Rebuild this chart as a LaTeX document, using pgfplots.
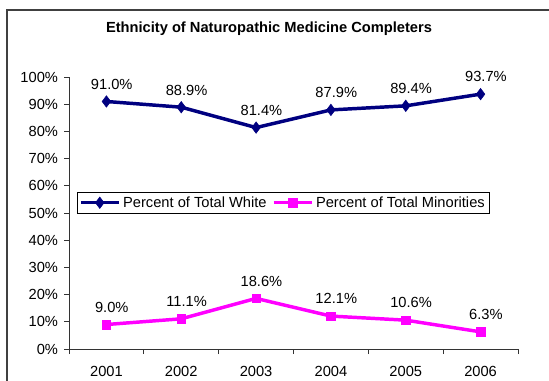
\documentclass[border=0pt]{standalone}
\usepackage{pgfplots}
\pgfplotsset{compat=1.18}
\usepackage{fontspec}
\setmainfont{Liberation Sans}
\definecolor{navy}{RGB}{0,0,128}
\definecolor{mag}{RGB}{255,0,255}
\begin{document}
\begin{tikzpicture}
\useasboundingbox (0pt,0pt) rectangle (411.75pt,285.75pt);
\draw[line width=1.4pt, black!75] (5.25pt,-10pt) -- (5.25pt,278.25pt) -- (425pt,278.25pt);
\node[font=\bfseries\fontsize{11}{13}\selectfont] at (201.75pt,264pt) {Ethnicity of Naturopathic Medicine Completers};
\begin{axis}[
  at={(51.75pt,24pt)}, anchor=south west,
  scale only axis, width=336.75pt, height=204pt,
  xmin=0.5, xmax=6.5, ymin=0, ymax=100,
  axis x line*=bottom, axis y line*=left,
  axis line style={-, black!80, line width=0.6pt},
  xtick={1,2,3,4,5,6},
  xticklabels={2001,2002,2003,2004,2005,2006},
  minor xtick={0.5,1.5,2.5,3.5,4.5,5.5,6.5},
  major x tick style={draw=none},
  ytick={0,10,...,100},
  yticklabel={\pgfmathprintnumber{\tick}\%},
  /pgf/number format/assume math mode=true,
  tick align=outside,
  tick style={black!80, line width=0.6pt},
  major tick length=3.75pt, minor tick length=3.75pt,
  ticklabel style={font=\fontsize{11}{13}\selectfont},
  xticklabel style={yshift=-6pt},
  yticklabel style={xshift=-1pt},
  point meta=explicit symbolic,
  nodes near coords,
  every node near coord/.append style={font=\fontsize{11}{13}\selectfont, xshift=4pt, yshift=5.5pt, text=black},
  legend style={at={(0.018,0.578)}, anchor=north west, draw=black, line width=0.6pt,
    font=\fontsize{11}{13}\selectfont, inner sep=1.2pt,
    /tikz/every odd column/.append style={column sep=0pt},
    /tikz/every even column/.append style={column sep=2pt}},
  legend columns=2,
  legend image code/.code={\draw[#1, mark=none] (0cm,0cm) -- (1.0cm,0cm);
     \draw[#1, only marks] plot coordinates {(0.5cm,0cm)};},
  clip=false,
]
\addplot[color=navy, line width=2.6pt, mark=diamond*, mark size=4.3pt, mark options={solid, line width=0.4pt, fill=navy}]
coordinates {(1,91.0) [91.0\%] (2,88.9) [88.9\%] (3,81.4) [81.4\%] (4,87.9) [87.9\%] (5,89.4) [89.4\%] (6,93.7) [93.7\%]};
\addlegendentry{Percent of Total White}
\addplot[color=mag, line width=2.6pt, mark=square*, mark size=3.2pt, mark options={solid, line width=0.4pt, fill=mag}]
coordinates {(1,9.0) [9.0\%] (2,11.1) [11.1\%] (3,18.6) [18.6\%] (4,12.1) [12.1\%] (5,10.6) [10.6\%] (6,6.3) [6.3\%]};
\addlegendentry{Percent of Total Minorities}
\end{axis}
\end{tikzpicture}
\end{document}
